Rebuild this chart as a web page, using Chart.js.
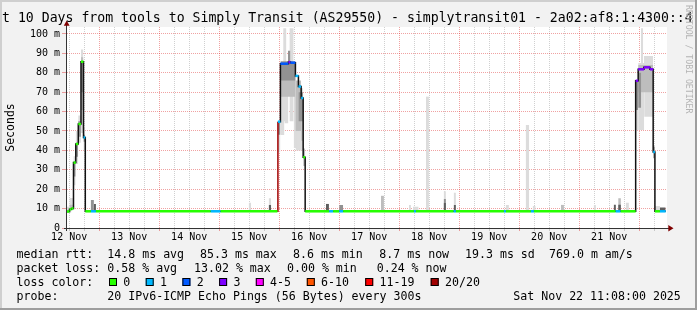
<!DOCTYPE html>
<html><head><meta charset="utf-8">
<script src="https://cdn.jsdelivr.net/npm/chart.js@4"></script>
<style>html,body{margin:0;padding:0;background:#f2f2f2;overflow:hidden}canvas{display:block}</style>
</head><body>
<canvas id="c" width="697" height="310"></canvas>
<script>
// ---------- DATA (time = hours since 12 Nov 2025 00:00, values in ms) ----------
const startHour = 11.133;   // 12 Nov 11:08
const endHour = 251.133;    // 22 Nov 11:08
const dayLabels = ['12 Nov','13 Nov','14 Nov','15 Nov','16 Nov','17 Nov','18 Nov','19 Nov','20 Nov','21 Nov'];
const yTickValues = [0,5,10,15,20,25,30,35,40,45,50,55,60,65,70,75,80,85,90,95,100];

const lossLabels = ['0','1','2','3','4-5','6-10','11-19','20/20'];
const lossColors = ['#26ff00','#00b8ff','#0059ff','#7e00ff','#ff00ff','#ff5500','#ff0000','#a10000'];

// median rtt steps: start time, value, loss class
const medianTime  = [11.13,12.13,12.93,13.73,14.65,15.65,16.73,17.73,18.45,20.7,22.7,68.6,72.6,95.3,95.5,96.5,99.7,100.5,102.5,103.7,104.8,105.6,106.4,116.0,117.6,120.0,121.6,149.9,150.7,165.8,166.7,185.9,186.7,196.7,197.9,230.6,232.6,238.6,239.6,241.9,244.3,245.6,246.3,248.3];
const medianValue = [8.5,9.6,10.1,33.7,43.3,53.6,85.7,46.7,8.6,8.6,8.6,8.6,8.6,8.6,54.8,84.7,85.5,85.2,78.4,72.9,67.0,36.5,8.6,8.6,8.6,8.6,8.6,8.6,8.6,8.6,8.6,8.6,8.6,8.6,8.6,8.6,8.6,75.9,81.8,82.8,81.8,39.2,8.6,8.6];
const medianLoss  = [0,0,0,0,0,0,0,1,0,1,0,1,0,7,1,2,3,2,1,1,1,0,0,1,0,1,0,1,0,1,0,1,0,1,0,1,0,3,3,3,3,1,0,1];
const medianEnd = 250.6;

// smoke (ping spread), rows: [from, to, low, high]
const smokeLight = [
  [11.1,12.9,8.0,11.0],[12.1,13.7,9.0,15.5],[13.7,14.6,22.0,37.0],[14.6,15.6,33.0,50.0],
  [15.6,16.7,44.0,58.0],[16.7,17.7,49.0,92.0],[17.7,18.4,40.0,52.0],[83.8,84.8,8.6,13.0],
  [91.8,92.8,8.6,15.3],[95.5,96.5,39.0,55.0],[96.5,98.1,47.9,85.0],[98.1,99.7,54.0,85.0],
  [97.6,98.9,55.0,103.0],[100.1,101.8,55.0,103.0],[101.8,102.8,41.2,80.0],[102.5,105.6,40.0,72.0],
  [147.9,148.7,8.6,11.9],[149.5,151.8,8.6,11.0],[154.7,155.9,8.6,67.7],[161.8,162.7,8.6,19.0],
  [165.8,166.7,8.6,18.2],[186.6,187.9,8.6,11.9],[194.6,196.0,8.6,53.1],[197.4,198.6,8.6,11.3],
  [221.8,222.7,8.6,11.9],[234.6,235.9,8.6,13.0],[238.6,239.6,50.5,76.0],[239.6,242.0,50.5,85.0],
  [242.0,245.6,57.4,85.0],[240.7,241.6,57.0,103.0],[241.9,245.6,80.0,88.7],[246.3,248.3,8.6,11.3]
];
const smokeMedium = [
  [12.1,13.7,9.5,12.0],[16.7,17.7,60.8,88.0],[96.5,102.5,67.7,85.0],[102.5,104.8,50.0,76.0],
  [104.8,105.6,45.0,67.0],[105.6,106.4,32.0,41.0],[136.7,137.9,8.6,16.6],[208.7,209.9,8.6,11.9],
  [231.6,232.7,8.6,15.3],[239.6,245.6,70.0,84.0]
];
const smokeDark = [
  [13.7,14.6,26.5,34.0],[14.6,15.6,36.7,44.0],[15.6,16.7,47.0,55.0],[16.7,17.7,70.0,86.0],
  [17.7,18.4,44.5,48.0],[20.6,21.9,8.6,14.4],[95.5,96.5,48.0,55.0],[96.5,102.5,76.0,86.0],
  [99.5,100.5,85.0,91.4],[103.7,105.6,55.0,70.0],[120.0,121.6,8.6,11.9],[161.8,162.7,8.6,15.0],
  [238.6,239.6,60.8,76.0],[239.6,240.8,62.0,80.0],[245.6,246.3,36.0,42.0]
];
const smokeDarkest = [
  [21.9,22.7,8.6,12.4],[91.8,92.8,8.6,11.9],[114.7,115.9,8.6,12.4],[161.8,162.7,8.6,12.9],
  [165.8,166.7,8.6,11.9],[229.8,230.7,8.6,12.0],[231.6,232.7,8.6,12.0],[248.3,250.6,8.6,10.6]
];
const smokeGroups = [smokeLight, smokeMedium, smokeDark, smokeDarkest];
const smokeColors = ['#dcdcdc','#bdbdbd','#929292','#5e5e5e'];

// legend / statistics text
const titleText = 't 10 Days from tools to Simply Transit (AS29550) - simplytransit01 - 2a02:af8:1:4300::4';
const rttStats  = ['median rtt:','14.8 ms avg','85.3 ms max','8.6 ms min','8.7 ms now','19.3 ms sd','769.0 m am/s'];
const lossStats = ['packet loss:','0.58 % avg','13.02 % max','0.00 % min','0.24 % now'];
const probeText = ['probe:','20 IPv6-ICMP Echo Pings (56 Bytes) every 300s','Sat Nov 22 11:08:00 2025'];

// ---------- BUILD ----------
const FONT = '"DejaVu Sans Mono", monospace';
const datasets = [];

// coloured median (horizontal parts only, coloured by loss)
const colPts = [], colLoss = [];
for (let i = 0; i < medianTime.length; i++) {
  const t1 = i + 1 < medianTime.length ? medianTime[i+1] : medianEnd;
  colPts.push({x: medianTime[i], y: medianValue[i]}, {x: t1, y: medianValue[i]}, {x: t1, y: null});
  colLoss.push(medianLoss[i], medianLoss[i], medianLoss[i]);
}
datasets.push({
  type: 'line', data: colPts, order: 0, borderWidth: 2.5, pointRadius: 0, spanGaps: false, fill: false,
  borderColor: lossColors[0],
  segment: { borderColor: ctx => lossColors[colLoss[ctx.p0DataIndex]] }
});
// black median step line
const blkPts = medianTime.map((t, i) => ({x: t, y: medianValue[i]}));
blkPts.push({x: medianEnd, y: medianValue[medianValue.length-1]});
datasets.push({
  type: 'line', data: blkPts, order: 1, borderWidth: 1.5, pointRadius: 0, stepped: 'before', fill: false,
  borderColor: '#111',
  segment: { borderColor: ctx => medianLoss[ctx.p0DataIndex] === 7 ? lossColors[7] : '#111' }
});
// smoke areas
smokeGroups.forEach((grp, g) => {
  grp.forEach(r => {
    datasets.push({
      type: 'line', data: [{x: r[0], y: r[3]}, {x: r[1], y: r[3]}], order: 10 - g,
      borderWidth: 0, pointRadius: 0, fill: {value: r[2]}, backgroundColor: smokeColors[g]
    });
  });
});

const RED = 'rgba(222,48,48,0.45)', GRAY = 'rgba(143,143,143,0.42)';

const deco = {
  id: 'deco',
  beforeDraw(chart) {
    const ctx = chart.ctx, W = chart.width, H = chart.height, a = chart.chartArea;
    ctx.save();
    ctx.fillStyle = '#f2f2f2'; ctx.fillRect(0, 0, W, H);
    ctx.fillStyle = '#cfcfcf'; ctx.fillRect(0, 0, W, 2); ctx.fillRect(0, 0, 2, H);
    ctx.fillStyle = '#9e9e9e'; ctx.fillRect(0, H-2, W, 2); ctx.fillRect(W-2, 0, 2, H);
    ctx.fillStyle = '#ffffff'; ctx.fillRect(a.left, a.top, a.right - a.left, a.bottom - a.top);
    ctx.restore();
  },
  afterDraw(chart) {
    const ctx = chart.ctx, a = chart.chartArea;
    ctx.save();
    // axes
    ctx.strokeStyle = '#333'; ctx.lineWidth = 1;
    ctx.beginPath();
    ctx.moveTo(a.left - 0.5, a.bottom + 3); ctx.lineTo(a.left - 0.5, a.top - 3);
    ctx.moveTo(a.left - 3, a.bottom + 0.5); ctx.lineTo(a.right + 3, a.bottom + 0.5);
    ctx.stroke();
    ctx.fillStyle = '#7f0000';
    ctx.beginPath();
    ctx.moveTo(a.left - 0.3, a.top - 6.5); ctx.lineTo(a.left - 3.2, a.top - 1.3); ctx.lineTo(a.left + 2.6, a.top - 1.3); ctx.closePath(); ctx.fill();
    ctx.beginPath();
    ctx.moveTo(a.right + 6.5, a.bottom + 0.3); ctx.lineTo(a.right + 1.3, a.bottom - 3); ctx.lineTo(a.right + 1.3, a.bottom + 3.4); ctx.closePath(); ctx.fill();
    // title
    ctx.fillStyle = '#000'; ctx.textBaseline = 'alphabetic'; ctx.textAlign = 'left';
    ctx.font = '13.2px ' + FONT;
    ctx.fillText(titleText, 2, 22);
    // vertical credit
    ctx.save();
    ctx.translate(685, 5); ctx.rotate(Math.PI / 2);
    ctx.font = '8.2px ' + FONT; ctx.fillStyle = '#b4b4b4'; ctx.textBaseline = 'middle';
    ctx.fillText('RRDTOOL / TOBI OETIKER', 0, -3);
    ctx.restore();
    // statistics
    ctx.font = '11.6px ' + FONT; ctx.fillStyle = '#000';
    const rx = [16.5, 107.3, 200, 293, 379.3, 465, 549];
    rttStats.forEach((s, i) => ctx.fillText(s, rx[i], 257.5));
    const lx = [16.5, 107.3, 194, 287, 376.7];
    lossStats.forEach((s, i) => ctx.fillText(s, lx[i], 271.5));
    ctx.fillText('loss color:', 16.5, 285.5);
    const bx = [109, 145.7, 182.4, 219.1, 255.8, 306.8, 365.2, 430.7];
    lossLabels.forEach((s, i) => {
      ctx.fillStyle = lossColors[i]; ctx.fillRect(bx[i], 278, 8, 8);
      ctx.strokeStyle = '#000'; ctx.lineWidth = 1; ctx.strokeRect(bx[i] + 0.5, 278.5, 7, 7);
      ctx.fillStyle = '#000'; ctx.fillText(s, bx[i] + 14.3, 285.5);
    });
    ctx.fillText(probeText[0], 16.5, 299.5);
    ctx.fillText(probeText[1], 107.3, 299.5);
    ctx.fillText(probeText[2], 513.3, 299.5);
    ctx.restore();
  }
};

new Chart(document.getElementById('c'), {
  type: 'line',
  data: { datasets },
  options: {
    responsive: false, devicePixelRatio: 1, animation: false, events: [],
    layout: { padding: { top: 27, right: 30, left: 0, bottom: 0 } },
    plugins: { legend: { display: false }, tooltip: { enabled: false } },
    scales: {
      x: {
        type: 'linear', min: startHour, max: endHour,
        afterFit(s) { s.height = 82; },
        afterBuildTicks(s) {
          const t = [];
          for (let h = Math.ceil(startHour / 6) * 6; h <= endHour; h += 6) t.push({value: h});
          s.ticks = t;
        },
        ticks: {
          autoSkip: false, maxRotation: 0, minRotation: 0, padding: 0, color: '#000',
          font: { family: FONT, size: 10 },
          callback: v => (v % 24 === 12 ? dayLabels[(v - 12) / 24] : '')
        },
        grid: {
          color: c => (c.tick && c.tick.value % 24 === 0 ? RED : GRAY),
          tickColor: c => (c.tick && c.tick.value % 24 === 0 ? RED : GRAY),
          lineWidth: 1, drawTicks: true, tickLength: 3
        },
        border: { display: false, dash: [1, 1] }
      },
      y: {
        type: 'linear', min: 0, max: 103.6,
        afterFit(s) { s.width = 67; },
        afterBuildTicks(s) { s.ticks = yTickValues.map(v => ({value: v})); },
        ticks: {
          padding: 2, color: '#000', font: { family: FONT, size: 10 },
          callback: v => (v % 10 === 0 ? (v === 0 ? '0' : v + ' m') : '')
        },
        grid: {
          color: c => (c.tick && c.tick.value % 10 === 0 ? RED : GRAY),
          tickColor: c => (c.tick && c.tick.value % 10 === 0 ? RED : GRAY),
          lineWidth: 1, drawTicks: true, tickLength: 5
        },
        border: { display: false, dash: [1, 1] },
        title: { display: true, text: 'Seconds', color: '#000', font: { family: FONT, size: 11.5 }, padding: { top: 4, bottom: 0 } }
      }
    }
  },
  plugins: [deco]
});
</script>
</body></html>
